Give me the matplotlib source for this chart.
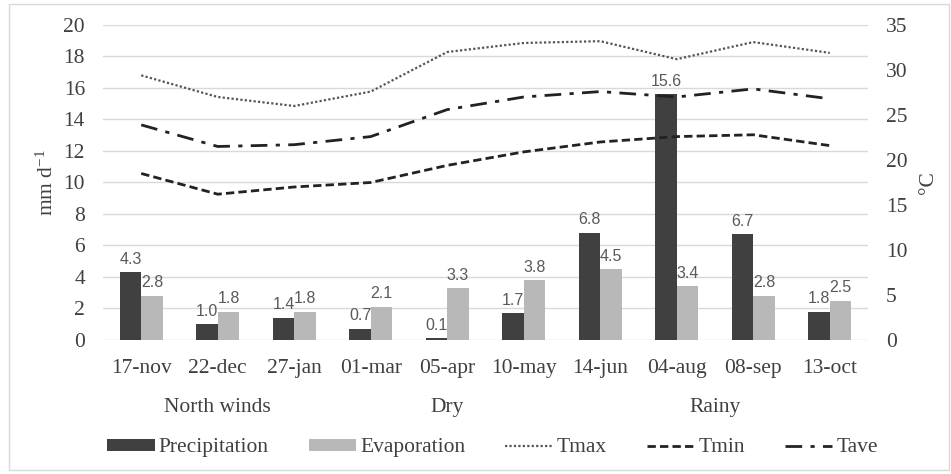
import matplotlib
matplotlib.use('Agg')
import matplotlib.pyplot as plt
import matplotlib.transforms as mtransforms
from matplotlib.patches import Rectangle
import numpy as np

plt.rcParams['mathtext.fontset'] = 'custom'
plt.rcParams['mathtext.rm'] = 'Liberation Serif'
plt.rcParams['mathtext.it'] = 'Liberation Serif:italic'

# Data
dates = ['17-nov', '22-dec', '27-jan', '01-mar', '05-apr',
         '10-may', '14-jun', '04-aug', '08-sep', '13-oct']
precipitation = [4.3, 1.0, 1.4, 0.7, 0.1, 1.7, 6.8, 15.6, 6.7, 1.8]
evaporation = [2.8, 1.8, 1.8, 2.1, 3.3, 3.8, 4.5, 3.4, 2.8, 2.5]
tmax = [29.4, 27.0, 26.0, 27.6, 32.0, 33.0, 33.2, 31.2, 33.1, 31.9]
tmin = [18.5, 16.2, 17.0, 17.5, 19.4, 20.9, 22.0, 22.6, 22.8, 21.6]
tave = [23.9, 21.5, 21.7, 22.6, 25.6, 27.0, 27.6, 27.0, 27.9, 26.8]
seasons = ['North winds', 'Dry', 'Rainy']
season_pos = [1, 4, 7.5]

serif = 'Liberation Serif'
label_font = 'Liberation Sans'
fs = 15.5

fig = plt.figure(figsize=(9.51, 4.74), dpi=100)
ax = fig.add_axes([0.1083, 0.2827, 0.8044, 0.6646])
ax2 = ax.twinx()

x = np.arange(len(dates))
w = 0.28
b1 = ax.bar(x - w / 2, precipitation, w, color='#404040', label='Precipitation', zorder=2)
b2 = ax.bar(x + w / 2, evaporation, w, color='#b8b8b8', label='Evaporation', zorder=2)

for xi, v in zip(x, precipitation):
    ax.text(xi - w / 2, v + 0.35, f'{v:.1f}', ha='center', va='bottom',
            fontsize=11.5, color='#595959', family=label_font, zorder=3)
for xi, v in zip(x, evaporation):
    ax.text(xi + w / 2, v + 0.35, f'{v:.1f}', ha='center', va='bottom',
            fontsize=11.5, color='#595959', family=label_font, zorder=3)

l1, = ax2.plot(x, tmax, color='#555555', lw=1.6, linestyle=(0, (1, 1)), label='Tmax')
l2, = ax2.plot(x, tmin, color='#222222', lw=2.0, linestyle=(0, (3, 1.5)), label='Tmin')
l3, = ax2.plot(x, tave, color='#222222', lw=2.0, linestyle=(0, (6, 3, 1.5, 3)), label='Tave')

ax.set_xlim(-0.5, len(dates) - 0.5)
ax.set_ylim(0, 20)
ax.set_yticks(np.arange(0, 21, 2))
ax2.set_ylim(0, 35)
ax2.set_yticks(np.arange(0, 36, 5))
ax.set_xticks(x)
ax.set_xticklabels(dates)

ax.grid(axis='y', color='#d9d9d9', lw=1.0, zorder=0)
ax.set_axisbelow(True)
for a in (ax, ax2):
    for s in a.spines.values():
        s.set_visible(False)
ax.tick_params(axis='both', length=0, labelsize=fs, labelcolor='#404040')
ax.tick_params(axis='y', pad=13)
ax.tick_params(axis='x', pad=14)
ax2.tick_params(axis='y', length=0, labelsize=fs, labelcolor='#404040', pad=13)
for t in ax.get_xticklabels() + ax.get_yticklabels() + ax2.get_yticklabels():
    t.set_family(serif)

ax.set_ylabel(r'mm d$^{\mathrm{-1}}$', fontsize=fs, family=serif, color='#404040', labelpad=4)
ax2.set_ylabel('°C', fontsize=fs, family=serif, color='#404040', labelpad=8)

trans = mtransforms.blended_transform_factory(ax.transData, ax.transAxes)
for name, pos in zip(seasons, season_pos):
    ax.text(pos, -0.213, name, transform=trans, ha='center', va='center',
            fontsize=fs, family=serif, color='#404040')

leg = fig.legend(handles=[b1, b2, l1, l2, l3], loc='center', bbox_to_anchor=(0.518, 0.055),
                 ncol=5, frameon=False, handlelength=2.2, handleheight=0.5,
                 columnspacing=1.85, handletextpad=0.2, fontsize=fs)
for t in leg.get_texts():
    t.set_family(serif)
    t.set_color('#404040')

# light frame around the chart
fig.patches.append(Rectangle((0.0095, 0.008), 0.988, 0.984, transform=fig.transFigure,
                             fill=False, edgecolor='#d9d9d9', lw=1.0))

plt.savefig('out.png', dpi=100)
plt.close()
